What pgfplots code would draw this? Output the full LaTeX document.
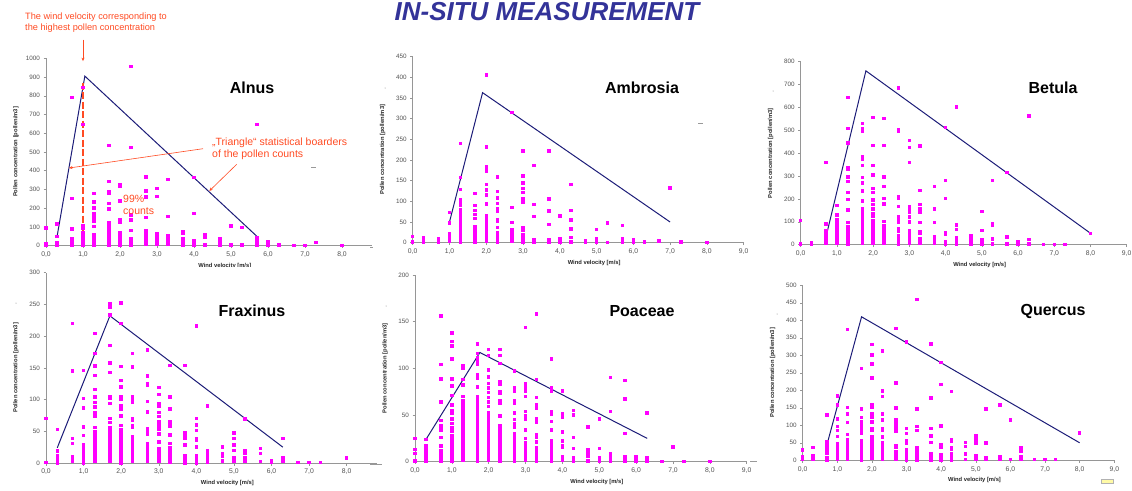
\documentclass[border=0pt]{standalone}
\usepackage{fontspec}
\setmainfont{Liberation Sans}
\usepackage{pgfplots}
\pgfplotsset{compat=1.18}
\usetikzlibrary{calc, arrows.meta}

\definecolor{ptcol}{RGB}{255,0,255}
\definecolor{navyline}{RGB}{28,28,120}
\definecolor{anno}{RGB}{255,75,35}
\definecolor{titleblue}{RGB}{51,51,153}
\definecolor{axgray}{RGB}{150,150,150}
\definecolor{ticktext}{RGB}{80,80,80}

\pgfplotsset{
  panel/.style={
    scale only axis, anchor=south west, clip=false,
    axis x line*=bottom, axis y line*=left,
    axis line style={draw=axgray, line width=0.6pt, -},
    tick style={draw=axgray, line width=0.5pt},
    major tick length=2.5pt, tick align=outside,
    xmin=0, ymin=0,
    x tick label style={font=\fontsize{6.8}{7}\selectfont, text=ticktext,
      /pgf/number format/.cd, fixed, fixed zerofill, precision=1, use comma, assume math mode=true},
    y tick label style={font=\fontsize{6.3}{7}\selectfont, text=ticktext,
      /pgf/number format/.cd, 1000 sep={}, assume math mode=true},
    scaled y ticks=false,
    xlabel={Wind velocity [m/s]},
    ylabel={Pollen concentration [pollen/m3]},
    label style={font=\bfseries\fontsize{5.8}{7}\selectfont, text=black!85},
    xlabel style={at={($(axis description cs:0.5,0)+(16pt,-20pt)$)}, anchor=center},
    ylabel style={at={($(axis description cs:0,0.5)+(-30pt,0pt)$)}, anchor=center},
  },
  pts/.style={only marks, color=ptcol, mark=square*, mark size=1.25pt,
    mark options={fill=ptcol, draw=ptcol, line width=0pt}},
  tri/.style={navyline, line width=1.0pt, mark=none},
}

\begin{document}
\begin{tikzpicture}[x=1pt, y=1pt]
\path[use as bounding box] (0,0) rectangle (1132,-490);

% ---------- Alnus
\begin{axis}[panel, at={(46pt,-245.7pt)}, width=325.6pt, height=187.4pt,
  xmax=8.8, ymax=1000, xtick={0,...,8}, ytick={0,100,...,1000}]
\addplot[pts] coordinates {
(0,95)(0,10)(0,0)
(0.3,115)(0.3,50)(0.3,15)(0.3,7)(0.3,0)
(0.7,792)(0.7,253)(0.7,90)(0.7,35)(0.7,22)(0.7,10)(0.7,0)
(1.0,845)(1.0,648)(1.0,105)(1.0,95)(1.0,70)(1.0,60)(1.0,48)(1.0,36)(1.0,24)(1.0,12)(1.0,0)
(1.3,278)(1.3,232)(1.3,200)(1.3,168)(1.3,150)(1.3,140)(1.3,128)(1.3,103)(1.3,60)(1.3,48)(1.3,36)(1.3,24)(1.3,12)(1.3,0)
(1.7,534)(1.7,342)(1.7,290)(1.7,282)(1.7,226)(1.7,196)(1.7,125)(1.7,113)(1.7,101)(1.7,89)(1.7,77)(1.7,65)(1.7,53)(1.7,41)(1.7,29)(1.7,17)(1.7,5)
(2.0,324)(2.0,315)(2.0,238)(2.0,139)(2.0,123)(2.0,69)(2.0,50)(2.0,38)(2.0,26)(2.0,14)(2.0,2)
(2.3,955)(2.3,525)(2.3,164)(2.3,137)(2.3,80)(2.3,36)(2.3,24)(2.3,12)(2.3,0)
(2.7,367)(2.7,292)(2.7,260)(2.7,151)(2.7,78)(2.7,69)(2.7,55)(2.7,43)(2.7,31)(2.7,19)(2.7,7)
(3.0,306)(3.0,263)(3.0,66)(3.0,57)(3.0,45)(3.0,33)(3.0,21)(3.0,9)
(3.3,352)(3.3,157)(3.3,55)(3.3,43)(3.3,31)(3.3,19)(3.3,7)
(3.7,75)(3.7,66)(3.7,36)(3.7,24)(3.7,12)(3.7,0)
(4.0,365)(4.0,171)(4.0,25)(4.0,13)(4.0,0)
(4.3,57)(4.3,44)(4.3,7)(4.3,0)
(4.7,36)(4.7,25)(4.7,7)(4.7,0)
(5.0,105)(5.0,7)(5.0,0)
(5.3,96)(5.3,7)(5.3,0)
(5.7,648)(5.7,44)(5.7,34)(5.7,21)(5.7,7)(5.7,0)
(6.0,21)(6.0,3)(6.3,3)(6.7,0)(7.0,0)(7.3,16)(8.0,0)
};
\addplot[tri] coordinates {(0.3,50)(1.05,905)(5.7,50)};
\draw[anno, line width=1.3pt, dash pattern=on 7pt off 2.5pt] (axis cs:1.0,870) -- (axis cs:1.0,25);
\draw[anno, line width=0.6pt, -{Stealth[length=3.5pt,width=3pt]}] (axis cs:1.0,1100) -- (axis cs:1.0,985);
\end{axis}

% ---------- Ambrosia
\begin{axis}[panel, at={(412.7pt,-242.7pt)}, width=331pt, height=186pt,
  xmax=9, ymax=450, xtick={0,...,9}, ytick={0,50,...,450}]
\addplot[pts] coordinates {
(0,15)(0,2)(0.3,11)(0.3,2)(0.7,9)(0.7,6)(0.7,2)
(1.0,73)(1.0,48)(1.0,21)(1.0,15)(1.0,9)(1.0,3)
(1.3,240)(1.3,158)(1.3,129)(1.3,103)(1.3,97)(1.3,90)(1.3,80)(1.3,72)(1.3,65)(1.3,58)(1.3,50)(1.3,44)(1.3,38)(1.3,32)(1.3,26)(1.3,20)(1.3,14)(1.3,8)(1.3,2)
(1.7,119)(1.7,90)(1.7,78)(1.7,68)(1.7,59)(1.7,38)(1.7,32)(1.7,26)(1.7,20)(1.7,14)(1.7,8)(1.7,2)
(2.0,406)(2.0,232)(2.0,183)(2.0,174)(2.0,141)(2.0,127)(2.0,115)(2.0,94)(2.0,65)(2.0,57)(2.0,52)(2.0,45)(2.0,39)(2.0,33)(2.0,27)(2.0,21)(2.0,15)(2.0,9)(2.0,3)
(2.3,159)(2.3,124)(2.3,108)(2.3,95)(2.3,83)(2.3,77)(2.3,56)(2.3,52)(2.3,37)(2.3,25)(2.3,19)(2.3,13)(2.3,7)(2.3,1)
(2.7,315)(2.7,85)(2.7,49)(2.7,31)(2.7,23)(2.7,15)(2.7,9)(2.7,3)
(3.0,222)(3.0,161)(3.0,144)(3.0,131)(3.0,122)(3.0,106)(3.0,97)(3.0,35)(3.0,31)(3.0,20)(3.0,14)(3.0,8)(3.0,2)
(3.3,187)(3.3,92)(3.3,64)(3.3,8)(3.3,2)
(3.7,222)(3.7,106)(3.7,77)(3.7,44)(3.7,8)(3.7,2)
(4.0,65)(4.0,10)(4.0,2)
(4.3,141)(4.3,78)(4.3,55)(4.3,33)(4.3,12)(4.3,2)
(4.7,4)(4.7,1)(5.0,32)(5.0,9)(5.0,1)(5.3,48)(5.3,1)
(5.7,42)(5.7,9)(5.7,2)(6.0,6)(6.0,1)(6.3,2)(6.7,4)(7.0,132)(7.3,2)(8.0,1)
};
\addplot[tri] coordinates {(1.0,50)(1.9,363)(7.0,50)};
\end{axis}

% ---------- Betula
\begin{axis}[panel, at={(800.7pt,-244.7pt)}, width=326pt, height=183pt,
  xmax=9, ymax=800, xtick={0,...,9}, ytick={0,100,...,800}]
\addplot[pts] coordinates {
(0,106)(0,3)(0.3,9)(0.3,1)
(0.7,360)(0.7,90)(0.7,61)(0.7,42)(0.7,25)(0.7,15)(0.7,5)
(1.0,171)(1.0,130)(1.0,108)(1.0,90)(1.0,78)(1.0,68)(1.0,58)(1.0,48)(1.0,38)(1.0,28)(1.0,18)(1.0,8)
(1.3,643)(1.3,509)(1.3,445)(1.3,337)(1.3,331)(1.3,297)(1.3,277)(1.3,229)(1.3,197)(1.3,152)(1.3,96)(1.3,80)(1.3,70)(1.3,60)(1.3,50)(1.3,40)(1.3,30)(1.3,20)(1.3,10)(1.3,0)
(1.7,529)(1.7,506)(1.7,494)(1.7,383)(1.7,375)(1.7,346)(1.7,294)(1.7,270)(1.7,235)(1.7,191)(1.7,155)(1.7,145)(1.7,135)(1.7,125)(1.7,115)(1.7,105)(1.7,95)(1.7,85)(1.7,75)(1.7,65)(1.7,55)(1.7,45)(1.7,35)(1.7,25)(1.7,15)(1.7,5)
(2.0,557)(2.0,434)(2.0,347)(2.0,308)(2.0,302)(2.0,245)(2.0,229)(2.0,195)(2.0,175)(2.0,155)(2.0,136)(2.0,124)(2.0,105)(2.0,95)(2.0,85)(2.0,75)(2.0,65)(2.0,55)(2.0,45)(2.0,35)(2.0,25)(2.0,15)(2.0,5)
(2.3,551)(2.3,434)(2.3,297)(2.3,255)(2.3,203)(2.3,179)(2.3,102)(2.3,85)(2.3,75)(2.3,65)(2.3,55)(2.3,45)(2.3,35)(2.3,25)(2.3,15)(2.3,5)
(2.7,684)(2.7,504)(2.7,496)(2.7,210)(2.7,203)(2.7,166)(2.7,122)(2.7,108)(2.7,96)(2.7,69)(2.7,60)(2.7,40)(2.7,30)(2.7,20)(2.7,10)(2.7,0)
(3.0,456)(3.0,424)(3.0,360)(3.0,166)(3.0,152)(3.0,143)(3.0,122)(3.0,99)(3.0,61)(3.0,45)(3.0,35)(3.0,25)(3.0,15)(3.0,5)
(3.3,431)(3.3,238)(3.3,176)(3.3,157)(3.3,143)(3.3,98)(3.3,57)(3.3,51)(3.3,25)(3.3,15)(3.3,5)
(3.7,255)(3.7,156)(3.7,96)(3.7,35)(3.7,25)(3.7,15)(3.7,5)
(4.0,513)(4.0,280)(4.0,201)(4.0,52)(4.0,44)(4.0,13)(4.0,2)
(4.3,603)(4.3,86)(4.3,67)(4.3,31)(4.3,20)(4.3,2)
(4.7,38)(4.7,20)(4.7,2)(5.0,146)(5.0,63)(5.0,20)(5.0,2)
(5.3,281)(5.3,93)(5.3,86)(5.3,25)(5.3,2)(5.7,315)(5.7,34)(5.7,2)
(6.0,15)(6.0,9)(6.0,1)(6.3,563)(6.3,22)(6.3,4)(6.7,1)(7.0,1)(7.3,1)(8.0,48)
};
\addplot[tri] coordinates {(0.73,55)(1.8,760)(8.0,50)};
\end{axis}

% cover the lower part of the first x label, as in the reference
\fill[white] (0,-266.5) rectangle (380,-490);

% ---------- Fraxinus
\begin{axis}[panel, at={(46pt,-463pt)}, width=330.8pt, height=190.3pt,
  xmax=8.8, ymax=300, xtick={0,...,8}, ytick={0,50,...,300}]
\addplot[pts] coordinates {
(0,70)(0,1)(0.3,53)(0.3,19)(0.3,12)(0.3,7)(0.3,3)(0.3,0)
(0.7,220)(0.7,145)(0.7,39)(0.7,31)(0.7,10)(0.7,6)(0.7,2)
(1.0,146)(1.0,102)(1.0,87)(1.0,57)(1.0,43)(1.0,28)(1.0,24)(1.0,20)(1.0,16)(1.0,12)(1.0,8)(1.0,4)(1.0,0)
(1.3,204)(1.3,173)(1.3,154)(1.3,152)(1.3,138)(1.3,116)(1.3,104)(1.3,95)(1.3,88)(1.3,79)(1.3,73)(1.3,56)(1.3,50)(1.3,46)(1.3,42)(1.3,38)(1.3,34)(1.3,30)(1.3,26)(1.3,22)(1.3,18)(1.3,14)(1.3,10)(1.3,6)(1.3,2)
(1.7,251)(1.7,245)(1.7,233)(1.7,185)(1.7,158)(1.7,143)(1.7,105)(1.7,102)(1.7,94)(1.7,70)(1.7,64)(1.7,55)(1.7,51)(1.7,47)(1.7,43)(1.7,39)(1.7,35)(1.7,31)(1.7,27)(1.7,23)(1.7,19)(1.7,15)(1.7,11)(1.7,7)(1.7,3)
(2.0,252)(2.0,220)(2.0,152)(2.0,130)(2.0,120)(2.0,104)(2.0,100)(2.0,91)(2.0,85)(2.0,74)(2.0,59)(2.0,52)(2.0,48)(2.0,44)(2.0,40)(2.0,36)(2.0,32)(2.0,28)(2.0,24)(2.0,20)(2.0,16)(2.0,12)(2.0,8)(2.0,4)(2.0,0)
(2.3,173)(2.3,151)(2.3,105)(2.3,102)(2.3,96)(2.3,70)(2.3,67)(2.3,58)(2.3,56)(2.3,42)(2.3,38)(2.3,34)(2.3,30)(2.3,26)(2.3,22)(2.3,18)(2.3,14)(2.3,10)(2.3,6)(2.3,2)
(2.7,178)(2.7,137)(2.7,125)(2.7,123)(2.7,97)(2.7,81)(2.7,80)(2.7,54)(2.7,50)(2.7,45)(2.7,30)(2.7,26)(2.7,22)(2.7,18)(2.7,14)(2.7,10)(2.7,6)(2.7,2)
(3.0,119)(3.0,108)(3.0,93)(3.0,89)(3.0,80)(3.0,73)(3.0,65)(3.0,60)(3.0,54)(3.0,46)(3.0,45)(3.0,33)(3.0,22)(3.0,18)(3.0,14)(3.0,10)(3.0,6)(3.0,2)
(3.3,154)(3.3,104)(3.3,85)(3.3,65)(3.3,58)(3.3,44)(3.3,31)(3.3,24)(3.3,17)(3.3,13)(3.3,9)(3.3,5)(3.3,1)
(3.7,154)(3.7,47)(3.7,42)(3.7,39)(3.7,28)(3.7,12)(3.7,8)(3.7,4)(3.7,0)
(4.0,216)(4.0,70)(4.0,60)(4.0,51)(4.0,39)(4.0,36)(4.0,25)(4.0,12)(4.0,8)(4.0,4)(4.0,0)
(4.3,90)(4.3,19)(4.3,15)(4.3,10)(4.3,5)(4.3,1)
(4.7,25)(4.7,15)(4.7,10)(4.7,3)
(5.0,47)(5.0,39)(5.0,28)(5.0,20)(5.0,9)(5.0,3)
(5.3,69)(5.3,19)(5.3,15)(5.3,8)(5.3,2)
(5.7,23)(5.7,15)(5.7,2)(6.0,4)(6.0,1)(6.3,39)(6.3,8)(6.3,2)
(6.7,1)(7.0,1)(7.3,1)(8.0,8)
};
\addplot[tri] coordinates {(0.3,24)(1.7,232)(6.3,25)};
\end{axis}

% ---------- Poaceae
\begin{axis}[panel, at={(415pt,-461.7pt)}, width=331.7pt, height=186.7pt,
  xmax=9, ymax=200, xtick={0,...,9}, ytick={0,50,...,200}]
\addplot[pts] coordinates {
(0,25)(0,13)(0,9)(0,1)
(0.3,24)(0.3,17)(0.3,13)(0.3,10)(0.3,7)(0.3,4)(0.3,1)
(0.7,156)(0.7,104)(0.7,89)(0.7,88)(0.7,64)(0.7,44)(0.7,38)(0.7,34)(0.7,26)(0.7,17)(0.7,12)(0.7,9)(0.7,6)(0.7,3)(0.7,0)
(1.0,138)(1.0,129)(1.0,124)(1.0,110)(1.0,89)(1.0,88)(1.0,81)(1.0,71)(1.0,61)(1.0,55)(1.0,52)(1.0,46)(1.0,41)(1.0,36)(1.0,33)(1.0,28)(1.0,25)(1.0,22)(1.0,19)(1.0,16)(1.0,13)(1.0,10)(1.0,7)(1.0,4)(1.0,1)
(1.3,103)(1.3,100)(1.3,88)(1.3,82)(1.3,70)(1.3,65)(1.3,62)(1.3,59)(1.3,56)(1.3,53)(1.3,50)(1.3,47)(1.3,44)(1.3,41)(1.3,38)(1.3,35)(1.3,32)(1.3,29)(1.3,26)(1.3,23)(1.3,20)(1.3,17)(1.3,14)(1.3,11)(1.3,8)(1.3,5)(1.3,2)
(1.7,126)(1.7,116)(1.7,111)(1.7,107)(1.7,104)(1.7,93)(1.7,89)(1.7,80)(1.7,70)(1.7,67)(1.7,64)(1.7,61)(1.7,58)(1.7,55)(1.7,52)(1.7,49)(1.7,46)(1.7,43)(1.7,40)(1.7,37)(1.7,34)(1.7,31)(1.7,28)(1.7,25)(1.7,22)(1.7,19)(1.7,16)(1.7,13)(1.7,10)(1.7,7)(1.7,4)(1.7,1)
(2.0,120)(2.0,114)(2.0,98)(2.0,91)(2.0,84)(2.0,79)(2.0,74)(2.0,69)(2.0,64)(2.0,59)(2.0,52)(2.0,50)(2.0,47)(2.0,44)(2.0,41)(2.0,38)(2.0,35)(2.0,32)(2.0,29)(2.0,26)(2.0,23)(2.0,20)(2.0,17)(2.0,14)(2.0,11)(2.0,8)(2.0,5)(2.0,2)
(2.3,120)(2.3,114)(2.3,105)(2.3,86)(2.3,83)(2.3,75)(2.3,73)(2.3,65)(2.3,63)(2.3,49)(2.3,39)(2.3,36)(2.3,33)(2.3,30)(2.3,27)(2.3,24)(2.3,21)(2.3,18)(2.3,15)(2.3,12)(2.3,9)(2.3,6)(2.3,3)(2.3,0)
(2.7,97)(2.7,79)(2.7,75)(2.7,65)(2.7,63)(2.7,52)(2.7,45)(2.7,41)(2.7,37)(2.7,30)(2.7,27)(2.7,24)(2.7,21)(2.7,18)(2.7,15)(2.7,12)(2.7,9)(2.7,6)(2.7,3)(2.7,0)
(3.0,144)(3.0,83)(3.0,80)(3.0,76)(3.0,70)(3.0,54)(3.0,49)(3.0,45)(3.0,34)(3.0,25)(3.0,20)(3.0,17)(3.0,14)(3.0,11)(3.0,8)(3.0,5)(3.0,2)
(3.3,158)(3.3,88)(3.3,69)(3.3,61)(3.3,57)(3.3,46)(3.3,42)(3.3,29)(3.3,26)(3.3,21)(3.3,15)(3.3,12)(3.3,9)(3.3,6)(3.3,3)(3.3,0)
(3.7,110)(3.7,79)(3.7,76)(3.7,54)(3.7,51)(3.7,43)(3.7,34)(3.7,22)(3.7,19)(3.7,16)(3.7,12)(3.7,9)(3.7,6)(3.7,3)(3.7,0)
(4.0,76)(4.0,51)(4.0,48)(4.0,32)(4.0,22)(4.0,17)(4.0,15)(4.0,5)(4.0,2)
(4.3,55)(4.3,50)(4.3,26)(4.3,14)(4.3,4)(4.3,1)
(4.7,37)(4.7,13)(4.7,10)(4.7,6)(4.7,1)
(5.0,46)(5.0,14)(5.0,4)(5.0,2)(5.0,0)
(5.3,90)(5.3,54)(5.3,8)(5.3,4)(5.3,0)
(5.7,87)(5.7,67)(5.7,30)(5.7,5)(5.7,4)(5.7,0)
(6.0,5)(6.0,2)(6.0,0)(6.3,52)(6.3,4)(6.3,1)
(6.7,0)(7.0,16)(7.3,0)(8.0,0)
};
\addplot[tri] coordinates {(0.3,24)(1.76,117)(6.3,25)};
\end{axis}

% ---------- Quercus
\begin{axis}[panel, at={(802.7pt,-460.3pt)}, width=311.6pt, height=175pt,
  xmax=9, ymax=500, xtick={0,...,9}, ytick={0,50,...,500}]
\addplot[pts] coordinates {
(0,30)(0,10)(0,3)(0.3,36)(0.3,13)(0.3,2)
(0.7,129)(0.7,53)(0.7,44)(0.7,36)(0.7,27)(0.7,19)(0.7,6)(0.7,1)
(1.0,184)(1.0,158)(1.0,118)(1.0,96)(1.0,85)(1.0,68)(1.0,47)(1.0,39)(1.0,30)(1.0,23)(1.0,16)(1.0,9)(1.0,2)
(1.3,374)(1.3,151)(1.3,132)(1.3,108)(1.3,74)(1.3,58)(1.3,51)(1.3,44)(1.3,37)(1.3,30)(1.3,23)(1.3,16)(1.3,9)(1.3,2)
(1.7,262)(1.7,147)(1.7,122)(1.7,110)(1.7,101)(1.7,91)(1.7,85)(1.7,77)(1.7,55)(1.7,48)(1.7,41)(1.7,34)(1.7,27)(1.7,20)(1.7,13)(1.7,6)(1.7,0)
(2.0,331)(2.0,301)(2.0,275)(2.0,235)(2.0,158)(2.0,152)(2.0,132)(2.0,124)(2.0,110)(2.0,90)(2.0,85)(2.0,67)(2.0,58)(2.0,48)(2.0,40)(2.0,33)(2.0,26)(2.0,19)(2.0,12)(2.0,5)
(2.3,312)(2.3,198)(2.3,182)(2.3,132)(2.3,115)(2.3,91)(2.3,86)(2.3,67)(2.3,50)(2.3,38)(2.3,31)(2.3,24)(2.3,17)(2.3,10)(2.3,3)
(2.7,377)(2.7,221)(2.7,151)(2.7,148)(2.7,115)(2.7,105)(2.7,98)(2.7,91)(2.7,82)(2.7,43)(2.7,38)(2.7,25)(2.7,18)(2.7,11)(2.7,4)
(3.0,338)(3.0,91)(3.0,77)(3.0,57)(3.0,49)(3.0,30)(3.0,20)(3.0,13)(3.0,6)(3.0,0)
(3.3,459)(3.3,147)(3.3,97)(3.3,85)(3.3,35)(3.3,30)(3.3,20)(3.3,13)(3.3,6)(3.3,0)
(3.7,332)(3.7,178)(3.7,91)(3.7,70)(3.7,51)(3.7,20)(3.7,15)(3.7,8)(3.7,1)
(4.0,279)(4.0,216)(4.0,98)(4.0,44)(4.0,36)(4.0,15)(4.0,8)(4.0,1)
(4.3,196)(4.3,59)(4.3,55)(4.3,37)(4.3,32)(4.3,19)(4.3,10)(4.3,6)(4.3,1)
(4.7,51)(4.7,39)(4.7,18)(4.7,3)
(5.0,70)(5.0,59)(5.0,50)(5.0,13)(5.0,8)(5.0,2)
(5.3,147)(5.3,49)(5.3,8)(5.3,3)
(5.7,158)(5.7,10)(5.7,5)(5.7,2)
(6.0,115)(6.0,2)(6.3,35)(6.3,25)(6.3,9)(6.3,4)
(6.7,2)(7.0,2)(7.3,2)(8.0,78)
};
\addplot[tri] coordinates {(0.72,52)(1.7,410)(8.0,50)};
\end{axis}

% ---------- titles and annotations
\node[font=\bfseries\itshape\fontsize{26}{29}\selectfont, text=titleblue] at (547,-12) {IN-SITU MEASUREMENT};

\begin{scope}[font=\bfseries\fontsize{16}{18}\selectfont]
\node at (252,-88) {Alnus};
\node at (642,-88) {Ambrosia};
\node at (1053,-88) {Betula};
\node at (252,-311) {Fraxinus};
\node at (642,-311) {Poaceae};
\node at (1053,-311) {Quercus};
\end{scope}

\node[anchor=west, align=left, text=anno, font=\fontsize{9.2}{11}\selectfont, inner sep=0pt] at (25,-22.5)
  {The wind velocity corresponding to\\the highest pollen concentration};
\node[anchor=west, align=left, text=anno, font=\fontsize{10.5}{12}\selectfont, inner sep=0pt] at (212,-149)
  {„Triangle“ statistical boarders\\of the pollen counts};
\node[anchor=west, align=left, text=anno, font=\fontsize{10.5}{12}\selectfont, inner sep=0pt] at (123,-205)
  {99\%\\counts};
\draw[anno, line width=0.6pt, -{Stealth[length=3.5pt,width=3pt]}] (203,-148.7) -- (69,-168);
\draw[anno, line width=0.6pt, -{Stealth[length=3.5pt,width=3pt]}] (236.7,-164.3) -- (209.3,-191);

% small stray marks of the original slide
\draw[black!40, line width=0.5pt] (311,-167) -- (316,-167);
\draw[black!40, line width=0.5pt] (698,-123) -- (703,-123);
\fill[black!50] (385,-88) circle (0.5) (773,-91) circle (0.5) (16,-303) circle (0.5)
  (386,-306) circle (0.5) (777,-314) circle (0.5);
\draw[black!40, line width=0.5pt] (370,-247) -- (373,-247) (370,-464) -- (382,-464) (750,-461) -- (757,-461);
\filldraw[draw=black!30, fill=yellow!35, line width=0.3pt] (1101,-479.5) rectangle (1113,-483);
\end{tikzpicture}
\end{document}
